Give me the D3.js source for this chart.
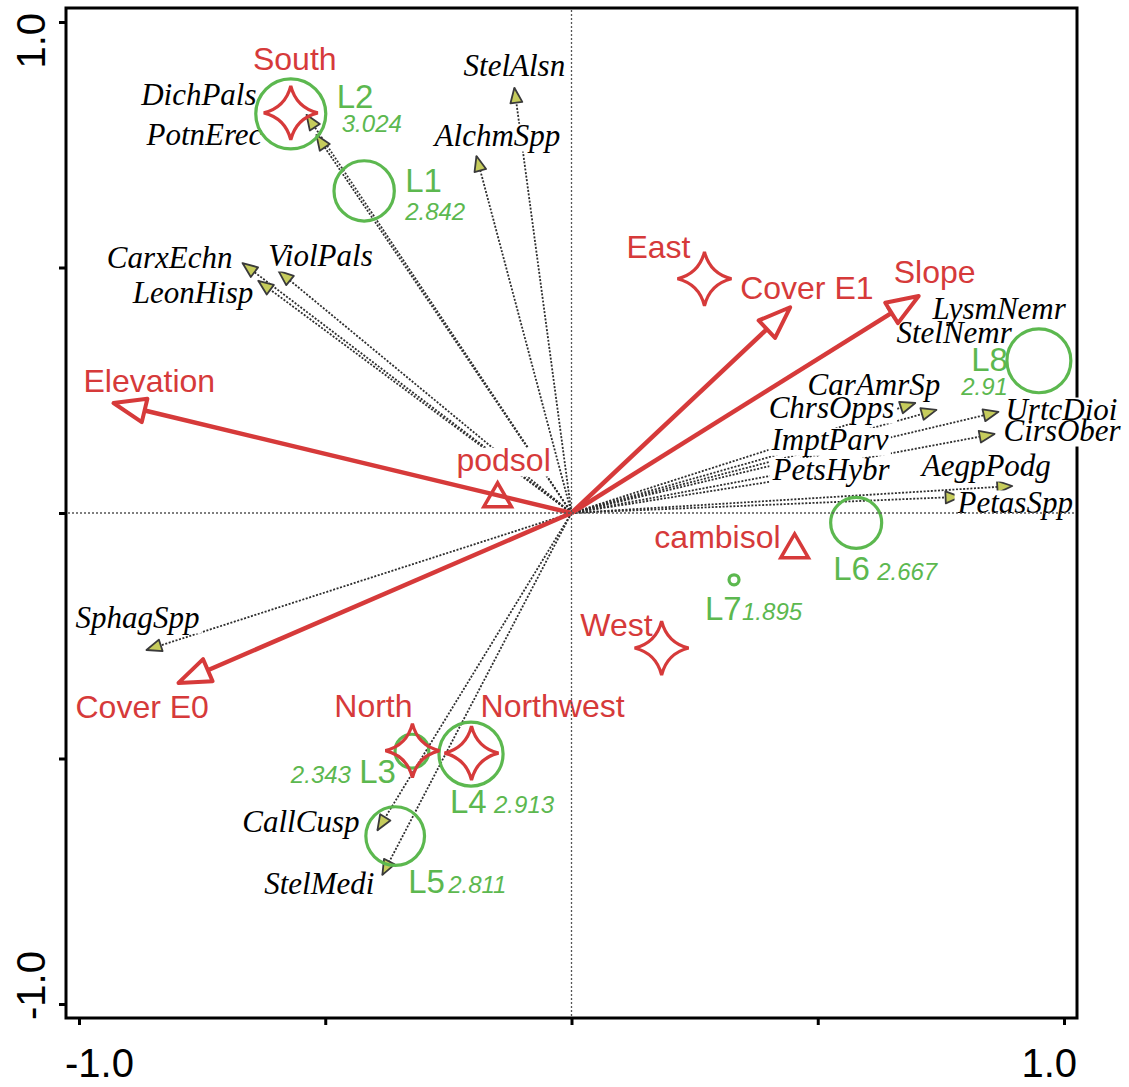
<!DOCTYPE html>
<html>
<head>
<meta charset="utf-8">
<script src="https://cdn.jsdelivr.net/npm/d3@7"></script>
<style>
body { margin: 0; background: #fff; }
</style>
</head>
<body>
<div id="chart"></div>
<script>
// species arrows (tips in ordination space)
var speciesNames = ["DichPals", "PotnErec", "StelAlsn", "AlchmSpp", "CarxEchn", "ViolPals", "LeonHisp",
  "SphagSpp", "CallCusp", "StelMedi", "CarAmrSp", "ChrsOpps", "ImptParv", "PetsHybr",
  "UrtcDioi", "CirsOber", "AegpPodg", "PetasSpp", "LysmNemr", "StelNemr"];
var speciesX = [-0.538, -0.518, -0.116, -0.193, -0.668, -0.595, -0.636,
  -0.863, -0.394, -0.384, 0.698, 0.741, 0.526, 0.526,
  0.867, 0.859, 0.895, 0.790, 0.678, 0.674];
var speciesY = [0.811, 0.770, 0.866, 0.727, 0.509, 0.493, 0.473,
  -0.279, -0.646, -0.737, 0.224, 0.210, 0.136, 0.083,
  0.206, 0.161, 0.055, 0.033, 0.425, 0.423];

// quantitative environmental variables
var envNames = ["Elevation", "Cover E0", "Cover E1", "Slope"];
var envX = [-0.930, -0.798, 0.444, 0.705];
var envY = [0.224, -0.346, 0.419, 0.442];

// nominal variables: aspect (stars) and soil (triangles)
var aspectNames = ["South", "East", "West", "North", "Northwest"];
var aspectX = [-0.570, 0.270, 0.183, -0.323, -0.203];
var aspectY = [0.815, 0.477, -0.275, -0.484, -0.489];
var soilNames = ["podsol", "cambisol"];
var soilX = [-0.150, 0.453];
var soilY = [0.029, -0.075];

// samples (circle size = value)
var sampleNames = ["L1", "L2", "L3", "L4", "L5", "L6", "L7", "L8"];
var sampleX = [-0.421, -0.570, -0.324, -0.204, -0.358, 0.578, 0.330, 0.949];
var sampleY = [0.656, 0.813, -0.485, -0.491, -0.658, -0.020, -0.136, 0.310];
var sampleValues = ["2.842", "3.024", "2.343", "2.913", "2.811", "2.667", "1.895", "2.91"];

var tickValues = [-1, -0.5, 0, 0.5, 1];
var axisLabels = ["-1.0", "1.0"];

// label placement: [dx, dy, anchor] relative to the mark
var labelPos = {
  DichPals: [-50, -10, "end"], PotnErec: [-54, 10, "end"], StelAlsn: [0, -12, "middle"],
  AlchmSpp: [21, -10, "middle"], CarxEchn: [-10, 5, "end"], ViolPals: [42, -5, "middle"],
  LeonHisp: [-5, 22, "end"], SphagSpp: [-9, -22, "middle"], CallCusp: [-18, 2, "end"],
  StelMedi: [-8, 19, "end"], CarAmrSp: [25, -8, "end"], ChrsOpps: [-42, 8, "end"],
  ImptParv: [-59, 4, "start"], PetsHybr: [-58, 8, "start"], UrtcDioi: [7, 8, "start"],
  CirsOber: [9, 7, "start"], AegpPodg: [-26, -10, "middle"], PetasSpp: [-3, 16, "start"],
  LysmNemr: [27, 15, "start"], StelNemr: [-7, 38, "start"],
  Elevation: [-30, -11, "start"], "Cover E0": [-103, 35, "start"], "Cover E1": [-50, -8, "start"],
  Slope: [-25, -13, "start"],
  South: [4, -43, "middle"], East: [-14, -21, "end"], West: [-9, -12, "end"],
  North: [-39, -34, "middle"], Northwest: [9, -36, "start"],
  podsol: [6, -28, "middle"], cambisol: [-14, -2, "end"]
};
var samplePos = {
  L1: [41, 1, "start", 41, 29, "start"], L2: [46, -6, "start", 51, 18, "start"],
  L3: [-16, 32, "end", -61, 32, "end"], L4: [-21, 59, "start", 23, 59, "start"],
  L5: [13, 57, "start", 53, 57, "start"], L6: [-23, 57, "start", 21, 57, "start"],
  L7: [-29, 40, "start", 8, 40, "start"], L8: [-31, 10, "end", -31, 34, "end"]
};

var svgWidth = 1129;
var svgHeight = 1087;
var red = "#d63a3a";
var green = "#5cb84f";

var svg = d3.select("#chart")
  .append("svg")
  .attr("width", svgWidth)
  .attr("height", svgHeight);

var x = d3.scaleLinear().domain([-1, 1]).range([79, 1064]);
var y = d3.scaleLinear().domain([-1, 1]).range([1004, 22]);
var rScale = d3.scaleLinear().domain([1.895, 3.024]).range([5, 35]);

var frame = { left: x(-1) - 13, right: x(1) + 13, top: y(1) - 14, bottom: y(-1) + 14 };
var ox = x(0), oy = y(0);

// frame and ticks
svg.append("rect")
  .attr("x", frame.left).attr("y", frame.top)
  .attr("width", frame.right - frame.left).attr("height", frame.bottom - frame.top)
  .attr("fill", "none").attr("stroke", "#000").attr("stroke-width", 3);

var leftAxis = d3.axisLeft(y).tickValues(tickValues).tickSize(7).tickFormat("");
var bottomAxis = d3.axisBottom(x).tickValues(tickValues).tickSize(7).tickFormat("");
svg.append("g").attr("transform", `translate(${frame.left},0)`).call(leftAxis)
  .call(g => g.select(".domain").remove())
  .selectAll("line").attr("stroke-width", 3);
svg.append("g").attr("transform", `translate(0,${frame.bottom})`).call(bottomAxis)
  .call(g => g.select(".domain").remove())
  .selectAll("line").attr("stroke-width", 3);

var sans = "Liberation Sans, Arial, sans-serif";
var serif = "Liberation Serif, Times New Roman, serif";

svg.append("text").attr("x", frame.left - 1).attr("y", 1077)
  .attr("font-family", sans).attr("font-size", 40)
  .text(axisLabels[0]);
svg.append("text").attr("x", frame.right).attr("y", 1077).attr("text-anchor", "end")
  .attr("font-family", sans).attr("font-size", 40)
  .text(axisLabels[1]);
svg.append("text").attr("transform", `translate(45,${frame.top + 5}) rotate(-90)`)
  .attr("text-anchor", "end")
  .attr("font-family", sans).attr("font-size", 40)
  .text(axisLabels[1]);
svg.append("text").attr("transform", `translate(45,${frame.bottom + 2}) rotate(-90)`)
  .attr("text-anchor", "start")
  .attr("font-family", sans).attr("font-size", 40)
  .text(axisLabels[0]);

// arrow head polygon (tip at px,py pointing away from origin)
function headPath(px, py, len, half) {
  var a = Math.atan2(py - oy, px - ox);
  var c = Math.cos(a), s = Math.sin(a);
  var bx = px - len * c, by = py - len * s;
  return `M${px},${py}L${bx - half * s},${by + half * c}L${bx + half * s},${by - half * c}Z`;
}

var species = speciesNames.map((n, i) => ({ name: n, px: x(speciesX[i]), py: y(speciesY[i]) }));

// species dotted lines
svg.append("g").selectAll("line")
  .data(species).enter().append("line")
  .attr("x1", ox).attr("y1", oy)
  .attr("x2", d => d.px).attr("y2", d => d.py)
  .attr("stroke", "#2e2e2e").attr("stroke-width", 1.8)
  .attr("stroke-dasharray", "2,1.6");

svg.append("g").selectAll("path")
  .data(species).enter().append("path")
  .attr("d", d => headPath(d.px, d.py, 15, 6))
  .attr("fill", "#c6cc5c").attr("stroke", "#3a3a3a").attr("stroke-width", 1.8)
  .attr("stroke-linejoin", "round");

// labels with white boxes behind them (boxes in their own layer so they never hide text)
var boxLayer = svg.append("g");
var labelLayer = svg.append("g");
function addLabel(txt, px, py, anchor, font, size, style, color) {
  var t = labelLayer.append("text")
    .attr("x", px).attr("y", py)
    .attr("text-anchor", anchor)
    .attr("font-family", font).attr("font-size", size)
    .attr("font-style", style).attr("fill", color)
    .text(txt);
  var b = t.node().getBBox();
  boxLayer.append("rect")
    .attr("x", b.x - 2).attr("y", py - size * 0.72)
    .attr("width", b.width + 4).attr("height", size * 0.9)
    .attr("fill", "#fff");
}

species.forEach(d => {
  var p = labelPos[d.name];
  addLabel(d.name, d.px + p[0], d.py + p[1], p[2], serif, 31, "italic", "#000");
});

var env = envNames.map((n, i) => ({ name: n, px: x(envX[i]), py: y(envY[i]) }));
var aspect = aspectNames.map((n, i) => ({ name: n, px: x(aspectX[i]), py: y(aspectY[i]) }));
var soil = soilNames.map((n, i) => ({ name: n, px: x(soilX[i]), py: y(soilY[i]) }));
var samples = sampleNames.map((n, i) => ({ name: n, v: sampleValues[i], px: x(sampleX[i]), py: y(sampleY[i]) }));

env.concat(aspect, soil).forEach(d => {
  var p = labelPos[d.name];
  addLabel(d.name, d.px + p[0], d.py + p[1], p[2], sans, 32, "normal", red);
});

samples.forEach(d => {
  var p = samplePos[d.name];
  addLabel(d.name, d.px + p[0], d.py + p[1], p[2], sans, 33, "normal", green);
  addLabel(d.v, d.px + p[3], d.py + p[4], p[5], sans, 24, "italic", green);
});

// environmental arrows
var envG = svg.append("g");
envG.selectAll("line")
  .data(env).enter().append("line")
  .attr("x1", ox).attr("y1", oy)
  .attr("x2", d => { var a = Math.atan2(d.py - oy, d.px - ox); return d.px - 30 * Math.cos(a); })
  .attr("y2", d => { var a = Math.atan2(d.py - oy, d.px - ox); return d.py - 30 * Math.sin(a); })
  .attr("stroke", red).attr("stroke-width", 4.5);
envG.selectAll("path")
  .data(env).enter().append("path")
  .attr("d", d => headPath(d.px, d.py, 32, 12))
  .attr("fill", "#fff").attr("stroke", red).attr("stroke-width", 4)
  .attr("stroke-linejoin", "round");

// sample circles
svg.append("g").selectAll("circle")
  .data(samples).enter().append("circle")
  .attr("cx", d => d.px).attr("cy", d => d.py)
  .attr("r", d => rScale(+d.v))
  .attr("fill", "none").attr("stroke", green).attr("stroke-width", 3.2);

// aspect stars
function starPath(R) {
  var k = R * 0.2;
  return `M0,${-R}Q${k},${-k} ${R},0Q${k},${k} 0,${R}Q${-k},${k} ${-R},0Q${-k},${-k} 0,${-R}Z`;
}
svg.append("g").selectAll("path")
  .data(aspect).enter().append("path")
  .attr("transform", d => `translate(${d.px},${d.py})`)
  .attr("d", starPath(27))
  .attr("fill", "none").attr("stroke", red).attr("stroke-width", 3.2)
  .attr("stroke-linejoin", "miter");

// soil triangles
svg.append("g").selectAll("path")
  .data(soil).enter().append("path")
  .attr("transform", d => `translate(${d.px},${d.py})`)
  .attr("d", d3.symbol(d3.symbolTriangle, 330))
  .attr("fill", "none").attr("stroke", red).attr("stroke-width", 3.5);

// centre lines
svg.append("line")
  .attr("x1", ox).attr("x2", ox).attr("y1", frame.top + 2).attr("y2", frame.bottom - 2)
  .attr("stroke", "#555").attr("stroke-width", 1.3).attr("stroke-dasharray", "2,2");
svg.append("line")
  .attr("x1", frame.left + 2).attr("x2", frame.right - 2).attr("y1", oy).attr("y2", oy)
  .attr("stroke", "#555").attr("stroke-width", 1.3).attr("stroke-dasharray", "2,2");
</script>
</body>
</html>
